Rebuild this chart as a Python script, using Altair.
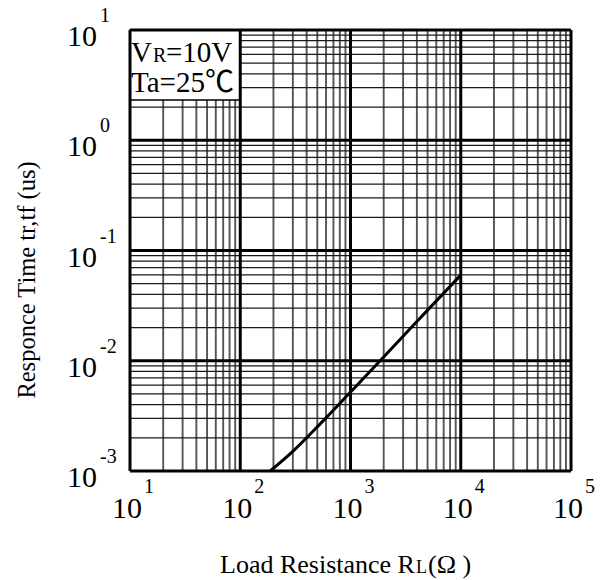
import altair as alt
import pandas as pd

# Response time vs. load resistance (ohm -> microseconds)
r_load = [187, 305, 534, 1000, 1875, 3273, 5336, 10000]
t_resp = [0.001, 0.00153, 0.00269, 0.0052, 0.0101, 0.0183, 0.0308, 0.0598]

# Decade ticks and their exponent labels
x_decades = [10, 100, 1000, 10000, 100000]
x_exponents = ["1", "2", "3", "4", "5"]
y_decades = [0.001, 0.01, 0.1, 1, 10]
y_exponents = ["-3", "-2", "-1", "0", "1"]
minor_steps = [2, 3, 4, 5, 6, 7, 8, 9]

SERIF = "Liberation Serif, Noto Sans CJK SC"
W, H = 441, 441

minor_x = [d * m for d in x_decades[:-1] for m in minor_steps]
minor_y = [d * m for d in y_decades[:-1] for m in minor_steps]

xscale = alt.Scale(type="log", domain=[10, 100000], nice=False)
yscale = alt.Scale(type="log", domain=[0.001, 10], nice=False)


def xenc(field):
    return alt.X(f"{field}:Q", scale=xscale, axis=None)


def yenc(field):
    return alt.Y(f"{field}:Q", scale=yscale, axis=None)


minor_xr = alt.Chart(pd.DataFrame({"v": minor_x})).mark_rule(
    color="#555555", strokeWidth=1.9).encode(x=xenc("v"))
minor_yr = alt.Chart(pd.DataFrame({"v": minor_y})).mark_rule(
    color="#1a1a1a", strokeWidth=1.3).encode(y=yenc("v"))

one = pd.DataFrame({"k": [0]})
legend_box = alt.Chart(one).mark_rect(
    fill="white", stroke="black", strokeWidth=1.5).encode(
    x=alt.value(0), x2=alt.value(110), y=alt.value(0), y2=alt.value(70))

major_xr = alt.Chart(pd.DataFrame({"v": x_decades})).mark_rule(
    color="black", strokeWidth=3).encode(x=xenc("v"))
major_yr = alt.Chart(pd.DataFrame({"v": y_decades})).mark_rule(
    color="black", strokeWidth=3).encode(y=yenc("v"))

curve = alt.Chart(pd.DataFrame({"r": r_load, "t": t_resp})).mark_line(
    color="black", strokeWidth=3, interpolate="monotone").encode(
    x=xenc("r"), y=yenc("t"))

xlab_df = pd.DataFrame({"v": x_decades, "e": x_exponents})
xlab_base = alt.Chart(xlab_df).mark_text(
    font=SERIF, fontSize=30, align="center", baseline="alphabetic",
    dx=-3, color="black").encode(x=xenc("v"), y=alt.value(488),
                                 text=alt.value("10"))
xlab_exp = alt.Chart(xlab_df).mark_text(
    font=SERIF, fontSize=20, align="left", baseline="alphabetic",
    dx=14, color="black").encode(x=xenc("v"), y=alt.value(463),
                                 text="e:N")

ylab_df = pd.DataFrame({"v": y_decades, "e": y_exponents})
ylab_base = alt.Chart(ylab_df).mark_text(
    font=SERIF, fontSize=30, align="right", baseline="alphabetic",
    dy=16, color="black").encode(x=alt.value(-33), y=yenc("v"),
                                 text=alt.value("10"))
ylab_exp = alt.Chart(ylab_df).mark_text(
    font=SERIF, fontSize=20, align="left", baseline="alphabetic",
    dy=-8, color="black").encode(x=alt.value(-30), y=yenc("v"),
                                 text="e:N")


def label(text, x, y, size, angle=0, align="left"):
    kw = dict(font=SERIF, fontSize=size, align=align, baseline="alphabetic",
              color="black")
    if angle:
        kw["angle"] = angle
    return alt.Chart(one).mark_text(**kw).encode(
        x=alt.value(x), y=alt.value(y), text=alt.value(text))


texts = [
    # x-axis title with subscript-style L
    label("Load Resistance R", 90, 543, 26),
    label("L", 286, 543, 18),
    label("(\u03a9 )", 298, 543, 26),
    # y-axis title
    label("Responce Time tr,tf (us)", -95, 250, 24.5, angle=270, align="center"),
    # conditions box
    label("V", 1, 32, 29),
    label("R", 23, 32, 20),
    label("=10V", 36, 32, 29),
    label("Ta=25\u2103", 1, 62, 29),
]

chart = alt.layer(
    minor_xr, minor_yr, legend_box, major_xr, major_yr, curve,
    xlab_base, xlab_exp, ylab_base, ylab_exp, *texts,
).properties(
    width=W, height=H,
    autosize=alt.AutoSizeParams(type="none"),
    padding={"left": 130, "top": 30, "right": 32, "bottom": 109},
    background="white",
).configure_view(stroke=None)

chart.save("out.html", embed_options={"renderer": "svg", "actions": False})
